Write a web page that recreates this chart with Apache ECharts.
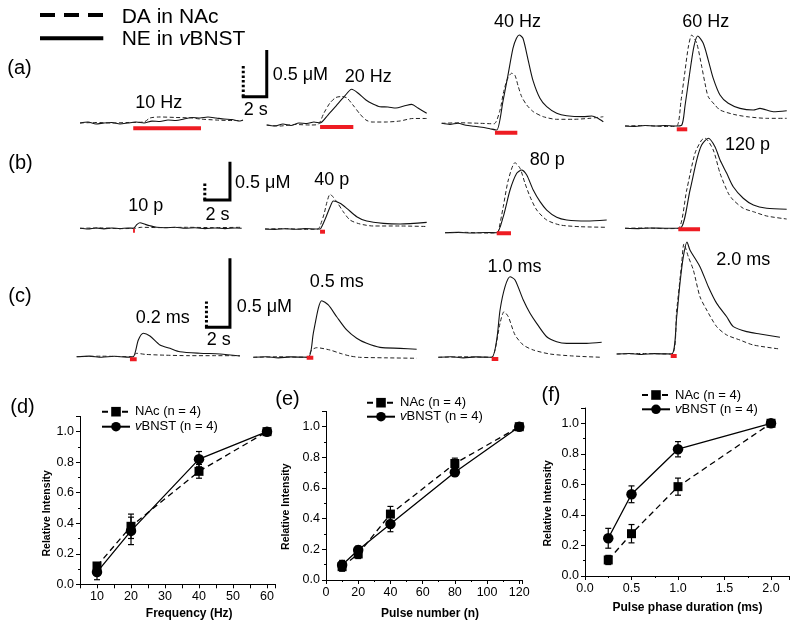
<!DOCTYPE html>
<html><head><meta charset="utf-8">
<script src="https://cdn.jsdelivr.net/npm/echarts@6/dist/echarts.min.js"></script>
<style>html,body{margin:0;padding:0;background:#fff}#c{width:800px;height:630px}</style>
</head><body><div id="c"></div>
<script>
// ---------- trace data: [time (s), concentration (uM)] ----------
const neA1 = [[0,0],[0.64,0.01],[1.28,-0.01],[1.92,0],[2.56,0.005],[3.2,-0.01],[3.84,0],[4.48,0.01],[5.12,0],[5.76,0.02],[6.4,0.016],[7.04,0.032],[7.68,0.027],[8.32,0.043],[8.96,0.059],[9.6,0.054],[10.24,0.064],[10.88,0.054],[11.52,0.043],[12.16,0.037],[12.8,0.021],[13.04,0.032]];
const daA1 = [[0,0],[1.28,0.008],[2.56,0],[3.84,0.008],[5.12,0.016],[5.6,0.079],[6.4,0.095],[7.68,0.087],[8.96,0.079],[9.6,0.063],[10.88,0.047],[12.16,0.039],[13.04,0.039]];
const neA2 = [[0,0],[0.66,-0.011],[1.3,0.011],[1.94,-0.005],[2.58,0.021],[3.22,0.016],[3.78,0.032],[4.26,0.021],[4.9,0.107],[5.54,0.203],[6.18,0.3],[6.8,0.382],[7.3,0.342],[7.94,0.268],[8.5,0.225],[9.06,0.196],[9.7,0.193],[10.34,0.182],[10.98,0.203],[11.6,0.221],[12.1,0.182],[12.8,0.125]];
const daA2 = [[0,0],[1.06,-0.016],[2.26,0.008],[3.46,0],[4.1,0.008],[4.58,0.189],[5.06,0.347],[5.54,0.434],[6.02,0.449],[6.42,0.426],[6.9,0.315],[7.46,0.173],[7.94,0.079],[8.42,0.047],[9.46,0.047],[10.66,0.063],[11.7,0.103],[12.8,0.103]];
const neA3 = [[0,0],[0.66,-0.011],[1.3,0],[1.94,-0.021],[2.58,-0.032],[3.22,-0.043],[3.86,-0.059],[4.4,-0.072],[4.9,0.235],[5.3,0.514],[5.7,0.803],[5.98,0.91],[6.2,0.945],[6.5,0.91],[6.92,0.674],[7.3,0.46],[7.86,0.268],[8.4,0.178],[9.2,0.107],[10.0,0.08],[11.33,0.071],[12.0,0.078],[12.42,0.06],[12.93,0.017]];
const daA3 = [[0,0],[1.46,0.008],[3.06,0],[4.18,-0.008],[4.66,0.205],[4.93,0.473],[5.22,0.68],[5.6,0.789],[5.86,0.757],[6.13,0.577],[6.4,0.419],[6.8,0.289],[7.33,0.183],[8.13,0.104],[9.2,0.063],[10.53,0.063],[11.86,0.079],[12.93,0.104]];
const neA4 = [[0,0],[0.8,-0.005],[1.6,0.005],[2.4,0],[3.2,0.005],[4.0,0],[4.54,0.01],[4.8,0.214],[5.2,0.589],[5.52,0.856],[5.82,0.963],[6.26,0.885],[6.66,0.706],[7.06,0.51],[7.6,0.332],[8.26,0.243],[9.2,0.189],[10.26,0.171],[10.8,0.189],[11.86,0.153],[12.94,0.164]];
const daA4 = [[0,0],[1.6,0.008],[3.2,-0.008],[4.14,0],[4.48,0.394],[4.8,0.867],[5.08,1.262],[5.34,1.435],[5.74,1.304],[6.14,0.935],[6.4,0.673],[6.66,0.462],[7.2,0.331],[7.6,0.252],[8.66,0.185],[9.74,0.147],[11.34,0.121],[12.94,0.121]];

const neB1 = [[0,0],[0.6,-0.009],[1.2,0.004],[1.8,-0.007],[2.4,0.004],[3.0,-0.004],[3.6,0.004],[4.0,0],[4.28,0.052],[4.5,0.073],[4.88,0.052],[5.25,0.033],[5.75,0.013],[6.38,0.007],[7.13,0.013],[7.88,0],[8.63,0.007],[9.38,-0.004],[10.13,0.004],[10.88,-0.004],[11.63,0.004],[12.13,0]];
const daB1 = [[0,0],[1.5,0.01],[3.0,-0.01],[4.1,0],[4.6,0.03],[6.0,0.02],[8.0,0.03],[10.0,0.02],[12.13,0.03]];
const neB2 = [[0,0],[0.75,-0.005],[1.5,0.004],[2.25,-0.004],[3.0,0.005],[3.75,0],[4.13,0],[4.28,0.039],[4.58,0.157],[4.88,0.287],[5.13,0.365],[5.63,0.335],[6.13,0.27],[6.88,0.161],[7.63,0.104],[8.88,0.074],[10.13,0.065],[12.13,0.087]];
const daB2 = [[0,0],[1.5,0.01],[3.0,-0.01],[3.98,0],[4.13,0.09],[4.43,0.449],[4.65,0.808],[4.88,1.039],[5.38,0.817],[5.87,0.518],[6.38,0.269],[7.13,0.15],[8.12,0.09],[10.13,0.09],[12.13,0.075]];
const neB3 = [[0,0],[1,0.004],[2,-0.004],[3,0.003],[3.88,0],[4.37,0.209],[4.88,0.557],[5.38,0.775],[5.75,0.818],[6.13,0.753],[6.62,0.557],[7.13,0.405],[7.63,0.296],[8.38,0.201],[9.13,0.166],[10.63,0.153],[12.13,0.166]];
const daB3 = [[0,0],[1.5,0.01],[3.0,-0.01],[3.9,0],[4.0,0.03],[4.37,0.778],[4.75,1.578],[5.25,2.096],[5.63,1.928],[6.0,1.479],[6.38,1.078],[6.88,0.68],[7.63,0.38],[8.63,0.231],[10.13,0.18],[12.13,0.162]];
const neB4 = [[0,0],[1,-0.004],[2,0.004],[3,0],[4.13,0],[4.88,0.5],[5.38,0.891],[5.75,1.087],[6.25,1.175],[6.75,1.065],[7.13,0.891],[7.63,0.718],[8.12,0.543],[8.87,0.392],[9.63,0.304],[10.63,0.261],[12.13,0.248]];
const daB4 = [[0,0],[1.5,0.01],[3.0,-0.01],[4.0,0],[4.63,1.147],[5.25,2.246],[5.75,2.644],[6.0,2.695],[6.62,2.344],[7.13,1.647],[7.75,1.048],[8.12,0.847],[8.87,0.599],[9.63,0.497],[10.63,0.368],[12.13,0.278]];

const neC1 = [[0,0],[1,0.004],[2,-0.004],[3,0.003],[4,-0.003],[4.53,0],[4.93,0.121],[5.33,0.17],[5.86,0.15],[6.66,0.085],[7.46,0.061],[8.26,0.036],[9.86,0.025],[11.46,0.02],[13.06,0.005]];
const daC1 = [[0,0],[2,0.01],[4.4,0],[4.8,0.066],[5.5,0.045],[7,0.03],[9,0.02],[11,0.02],[13.06,0.02]];
const neC2 = [[0,0],[1,0.004],[2,-0.004],[3,0.003],[4.4,0],[4.8,0.174],[5.2,0.355],[5.47,0.41],[6.0,0.379],[6.67,0.294],[7.47,0.198],[8.27,0.138],[9.07,0.101],[10.14,0.072],[11.74,0.065],[13.07,0.058]];
const daC2 = [[0,0],[2,0.01],[4.3,0],[4.67,0.142],[5.07,0.187],[6.13,0.142],[6.94,0.078],[7.74,0.025],[8.5,0],[10.5,-0.01],[13.07,-0.019]];
const neC3 = [[0,0],[1,0.004],[2,-0.004],[3,0.003],[4.27,0],[4.67,0.125],[4.94,0.343],[5.34,0.512],[5.74,0.584],[6.14,0.56],[6.8,0.415],[7.34,0.319],[7.87,0.246],[8.67,0.149],[9.47,0.113],[10.27,0.101],[11.87,0.101],[13.07,0.109]];
const daC3 = [[0,0],[2,0.01],[4.27,0],[4.54,0.142],[4.94,0.662],[5.26,0.887],[5.6,0.79],[6.14,0.434],[6.8,0.239],[7.6,0.142],[8.94,0.064],[10.8,0.025],[13.07,0]];
const neC4 = [[0,0],[1,0.004],[2,-0.004],[3,0.003],[4.4,0],[4.8,0.27],[5.06,0.512],[5.33,0.705],[5.62,0.812],[5.86,0.754],[6.66,0.633],[7.33,0.488],[8.0,0.367],[8.8,0.27],[9.33,0.198],[10.4,0.162],[11.46,0.145],[13.06,0.121]];
const daC4 = [[0,0],[2,0.01],[4.4,0],[4.8,0.856],[5.2,1.765],[5.38,2.141],[5.73,1.893],[6.13,1.635],[6.66,1.115],[7.2,0.856],[8.0,0.531],[8.8,0.37],[9.86,0.272],[10.93,0.175],[13.06,0.097]];

// stimulation windows [start, end] (s)
const stimA = [[4.26,9.68],[4.27,6.93],[4.26,6.05],[4.14,4.98]];
const stimB = [[3.98,4.12],[4.13,4.5],[3.88,4.95],[4.0,5.63]];
const stimC = [[4.26,4.8],[4.27,4.8],[4.27,4.8],[4.32,4.8]];

const freqLabels  = ['10 Hz','20 Hz','40 Hz','60 Hz'];
const pulseLabels = ['10 p','40 p','80 p','120 p'];
const widthLabels = ['0.2 ms','0.5 ms','1.0 ms','2.0 ms'];
const rowLabels = ['(a)','(b)','(c)'];
const scaleTime = 2;    // s
const scaleConc = 0.5;  // uM
const traceNames = ['DA in NAc','NE in vBNST'];

// ---------- summary data ----------
const freqX = [10,20,40,60];
const nacFreq = [0.12,0.38,0.74,1.0];
const nacFreqErr = [0.02,0.08,0.045,0];
const bnstFreq = [0.08,0.35,0.82,1.0];
const bnstFreqErr = [0.05,0.09,0.05,0];

const pulseX = [10,20,40,80,120];
const nacPulse = [0.087,0.17,0.43,0.76,1.0];
const nacPulseErr = [0.03,0.03,0.05,0.035,0];
const bnstPulse = [0.098,0.196,0.365,0.703,1.0];
const bnstPulseErr = [0.03,0.025,0.05,0.025,0];

const durX = [0.25,0.5,1.0,2.0];
const nacDur = [0.105,0.277,0.585,1.0];
const nacDurErr = [0.03,0.06,0.056,0];
const bnstDur = [0.247,0.535,0.83,1.0];
const bnstDurErr = [0.065,0.055,0.05,0];
const sigDur = [0.5,1.0];

const seriesNames = ['NAc (n = 4)','vBNST (n = 4)'];
const xTitles = ['Frequency (Hz)','Pulse number (n)','Pulse phase duration (ms)'];
const yTitle = 'Relative Intensity';
const chartLabels = ['(d)','(e)','(f)'];

// ---------- layout ----------
const FONT = '"Liberation Sans", Arial, Helvetica, sans-serif';
const rows = {
  a:{pxs:12.5, ne:93.4, da:63.4},
  b:{pxs:13.33, ne:76.6, da:33.4},
  c:{pxs:12.5, ne:138, da:51.4}
};
const panels = [
  {row:'a', x0:80,    y0:123,   off:5.3, ne:neA1, da:daA1, stim:stimA[0], label:freqLabels[0], lx:158.7, ly:103.3},
  {row:'a', x0:266.7, y0:125,   off:2,   ne:neA2, da:daA2, stim:stimA[1], label:freqLabels[1], lx:368.3, ly:77.5},
  {row:'a', x0:441.7, y0:123.3, off:9.4, ne:neA3, da:daA3, stim:stimA[2], label:freqLabels[2], lx:517.5, ly:22.5},
  {row:'a', x0:625,   y0:126,   off:3.3, ne:neA4, da:daA4, stim:stimA[3], label:freqLabels[3], lx:705.8, ly:22.5},
  {row:'b', x0:80,    y0:228.3, off:2.4, ne:neB1, da:daB1, stim:stimB[0], label:pulseLabels[0], lx:145.8, ly:206.3},
  {row:'b', x0:265,   y0:229,   off:2.7, ne:neB2, da:daB2, stim:stimB[1], label:pulseLabels[1], lx:331.7, ly:180},
  {row:'b', x0:445,   y0:232.7, off:0.5, ne:neB3, da:daB3, stim:stimB[2], label:pulseLabels[2], lx:547.2, ly:159.7},
  {row:'b', x0:625,   y0:228.3, off:1,   ne:neB4, da:daB4, stim:stimB[3], label:pulseLabels[3], lx:747.5, ly:145},
  {row:'c', x0:76.7,  y0:356.7, off:2.6, ne:neC1, da:daC1, stim:stimC[0], label:widthLabels[0], lx:162.8, ly:318.3},
  {row:'c', x0:253.3, y0:357.3, off:0.5, ne:neC2, da:daC2, stim:stimC[1], label:widthLabels[1], lx:336.7, ly:281.7},
  {row:'c', x0:438.3, y0:357.3, off:1.7, ne:neC3, da:daC3, stim:stimC[2], label:widthLabels[2], lx:514.5, ly:267},
  {row:'c', x0:616.7, y0:354,   off:2,   ne:neC4, da:daC4, stim:stimC[3], label:widthLabels[3], lx:743.3, ly:260}
];
const scaleBars = [
  {panel:0, t0:12.94, h:26.3, cx:272.7, cy:75,    sx:255.7, sy:110},
  {panel:4, t0:9.25,  h:28.3, cx:235,   cy:183.3, sx:217.5, sy:215},
  {panel:8, t0:10.26, h:29.4, cx:236.7, cy:306.7, sx:218.8, sy:340}
];

const grid=[], xAxis=[], yAxis=[], series=[], graphic=[];
function txt(text, x, y, size, o) {
  o = o || {};
  const st = {text:text, fontSize:size, fontFamily:FONT, fontWeight:o.bold?'bold':'normal', fill:'#000',
    align:o.align||'center', verticalAlign:'middle'};
  if (o.rich) st.rich = o.rich;
  return {type:'text', x:x, y:y, rotation:o.rot||0, silent:true, style:st};
}

const yIdxOf = [];
panels.forEach((p,i)=>{
  const r = rows[p.row];
  grid.push({left:p.x0, top:p.y0-130, width:200, height:160, outerBoundsMode:'none'});
  xAxis.push({type:'value', gridIndex:i, min:0, max:200/r.pxs, show:false});
  const yNE = yAxis.length;
  yIdxOf.push(yNE);
  yAxis.push({type:'value', gridIndex:i, min:-30/r.ne, max:130/r.ne, show:false});
  yAxis.push({type:'value', gridIndex:i, min:-30/r.da, max:130/r.da, show:false});
  series.push({type:'line', name:traceNames[1], xAxisIndex:i, yAxisIndex:yNE, data:p.ne, symbol:'none', smooth:0.25, clip:false,
    lineStyle:{color:'#111', width:1.1}, silent:true, z:3});
  series.push({type:'line', name:traceNames[0], xAxisIndex:i, yAxisIndex:yNE+1, data:p.da, symbol:'none', smooth:0.25, clip:false,
    lineStyle:{color:'#222', width:1, type:[4,2.5]}, silent:true, z:3});
  const yb = -p.off/r.ne;
  series.push({type:'line', xAxisIndex:i, yAxisIndex:yNE, data:[[p.stim[0],yb],[p.stim[1],yb]], symbol:'none', clip:false,
    lineStyle:{color:'#ee1c23', width:4, cap:'butt'}, silent:true, z:4});
  graphic.push(txt(p.label, p.lx, p.ly, 18));
});

scaleBars.forEach(sb=>{
  const p = panels[sb.panel], r = rows[p.row], yi = yIdxOf[sb.panel];
  const v0 = sb.h / r.ne, vd = sb.h / r.da, td = sb.t0 + 1.5 / r.pxs;
  series.push({type:'line', xAxisIndex:sb.panel, yAxisIndex:yi,
    data:[[sb.t0, v0],[sb.t0+scaleTime, v0],[sb.t0+scaleTime, v0+scaleConc]],
    symbol:'none', clip:false, lineStyle:{color:'#000', width:3, join:'miter'}, silent:true});
  series.push({type:'line', xAxisIndex:sb.panel, yAxisIndex:yi+1,
    data:[[td, vd],[td, vd+scaleConc]],
    symbol:'none', clip:false, lineStyle:{color:'#000', width:3, type:[2.5,2.2]}, silent:true});
  graphic.push(txt(scaleConc + ' μM', sb.cx, sb.cy, 18, {align:'left'}));
  graphic.push(txt(scaleTime + ' s', sb.sx, sb.sy, 18));
});

// row labels
graphic.push(txt(rowLabels[0], 7.3, 68, 20, {align:'left'}));
graphic.push(txt(rowLabels[1], 8.3, 163, 20, {align:'left'}));
graphic.push(txt(rowLabels[2], 8.3, 296, 20, {align:'left'}));

// top legend
graphic.push({type:'line', silent:true, shape:{x1:40,y1:15,x2:103.3,y2:15}, style:{stroke:'#000', lineWidth:4, lineDash:[15,9]}});
graphic.push({type:'line', silent:true, shape:{x1:40,y1:38.3,x2:103.3,y2:38.3}, style:{stroke:'#000', lineWidth:4}});
graphic.push(txt(traceNames[0], 121.7, 17.5, 21, {align:'left'}));
graphic.push(txt('{n|NE in }{i|v}{n|BNST}', 121.7, 39, 21, {align:'left',
  rich:{n:{fontSize:21, fontFamily:FONT, fill:'#000'}, i:{fontSize:21, fontFamily:FONT, fontStyle:'italic', fill:'#000'}}}));

// ---------- bottom charts ----------
const bottom = [
  {left:80,  top:416.4, width:195.5, height:167.9, xmin:5, xmax:62.5, interval:5, minor:false,
   fmt:v=>Math.abs(v%10)<1e-9?String(v):'',
   x:freqX, nac:nacFreq, nacE:nacFreqErr, bn:bnstFreq, bnE:bnstFreqErr,
   leg:{left:101, top:404.7, itemGap:1},
   lab:[22.5,407], yt:[46.7,513.3], xt:[189.2,614]},
  {left:326, top:411.4, width:196.5, height:168.6, xmin:0, xmax:122, interval:20, minor:true,
   fmt:v=>(Math.abs(v%20)<1e-9?String(v):''),
   x:pulseX, nac:nacPulse, nacE:nacPulseErr, bn:bnstPulse, bnE:bnstPulseErr,
   leg:{left:366, top:395.7, itemGap:0},
   lab:[287.5,399], yt:[285.8,506.7], xt:[430,614]},
  {left:585, top:408, width:204.6, height:168, xmin:0, xmax:2.2, interval:0.5, minor:true,
   fmt:v=>(Math.abs(v*2-Math.round(v*2))<1e-9?v.toFixed(1):''),
   x:durX, nac:nacDur, nacE:nacDurErr, bn:bnstDur, bnE:bnstDurErr,
   leg:{left:641, top:388, itemGap:0.3},
   lab:[551,395], yt:[548,503.3], xt:[687.5,608]}
];

const legends = [];
const axisCommon = {
  axisLine:{onZero:false, lineStyle:{color:'#000', width:1}},
  axisTick:{show:true, length:4, inside:false, lineStyle:{color:'#000', width:1}},
  splitLine:{show:false}, minorSplitLine:{show:false}
};
function errSeries(gi, yi, xs, ys, es) {
  return {type:'custom', xAxisIndex:gi, yAxisIndex:yi, silent:true, z:2, clip:false,
    encode:{x:0, y:[1,2]},
    data: xs.map((x,k)=>[x, ys[k]-es[k], ys[k]+es[k]]),
    renderItem:(params, api)=>{
      const lo = api.coord([api.value(0), api.value(1)]);
      const hi = api.coord([api.value(0), api.value(2)]);
      const w = 3, st = {stroke:'#000', lineWidth:1.2};
      return {type:'group', children:[
        {type:'line', shape:{x1:lo[0],y1:lo[1],x2:hi[0],y2:hi[1]}, style:st},
        {type:'line', shape:{x1:lo[0]-w,y1:lo[1],x2:lo[0]+w,y2:lo[1]}, style:st},
        {type:'line', shape:{x1:hi[0]-w,y1:hi[1],x2:hi[0]+w,y2:hi[1]}, style:st}
      ]};
    }};
}

bottom.forEach((b,k)=>{
  const gi = grid.length;
  grid.push({left:b.left, top:b.top, width:b.width, height:b.height, outerBoundsMode:'none'});
  xAxis.push(Object.assign({type:'value', gridIndex:gi, min:b.xmin, max:b.xmax, interval:b.interval,
    axisLabel:{color:'#000', fontSize:12.5, fontFamily:FONT, margin:6, formatter:b.fmt, showMaxLabel:true},
    minorTick:{show:b.minor, splitNumber:2, length:2, lineStyle:{color:'#000'}}}, axisCommon));
  const yi = yAxis.length;
  yAxis.push(Object.assign({type:'value', gridIndex:gi, min:0, max:1.1, interval:0.2,
    axisLabel:{color:'#000', fontSize:12.5, fontFamily:FONT, margin:6,
      formatter:v=>(Math.abs(v*5-Math.round(v*5))<1e-9?v.toFixed(1):'')},
    minorTick:{show:true, splitNumber:2, length:2, lineStyle:{color:'#000'}}}, axisCommon));
  series.push(errSeries(gi, yi, b.x, b.nac, b.nacE));
  series.push(errSeries(gi, yi, b.x, b.bn, b.bnE));
  series.push({type:'line', name:seriesNames[0], xAxisIndex:gi, yAxisIndex:yi, z:3,
    data:b.x.map((x,j)=>[x,b.nac[j]]), symbol:'rect', symbolSize:9, showSymbol:true,
    lineStyle:{color:'#000', width:1.3, type:[6,4]}, itemStyle:{color:'#000'}});
  series.push({type:'line', name:seriesNames[1], xAxisIndex:gi, yAxisIndex:yi, z:3,
    data:b.x.map((x,j)=>[x,b.bn[j]]), symbol:'circle', symbolSize:10.5, showSymbol:true,
    lineStyle:{color:'#000', width:1.3}, itemStyle:{color:'#000'}});
  if (k===2) {
    series.push({type:'scatter', xAxisIndex:gi, yAxisIndex:yi, z:5, silent:true,
      data: sigDur.map(x=>{const j=b.x.indexOf(x); return [x, b.bn[j]+b.bnE[j]];}),
      symbolSize:1, itemStyle:{opacity:0},
      label:{show:true, position:'inside', formatter:'*', fontSize:24, fontFamily:FONT, color:'#000', offset:[0,-1.5]}});
  }
  legends.push({orient:'vertical', left:b.leg.left, top:b.leg.top, itemWidth:28, itemHeight:12, itemGap:b.leg.itemGap,
    selectedMode:false, data:seriesNames, padding:0,
    formatter:n=>n.charAt(0)==='v' ? '{i|v}'+n.slice(1) : n,
    textStyle:{color:'#000', fontSize:13, fontFamily:FONT, lineHeight:14,
      rich:{i:{fontStyle:'italic', fontSize:13, fontFamily:FONT, color:'#000', lineHeight:14}}}});
  graphic.push(txt(chartLabels[k], b.lab[0], b.lab[1], 20));
  graphic.push(txt(yTitle, b.yt[0], b.yt[1], 10.5, {bold:true, rot:Math.PI/2}));
  graphic.push(txt(xTitles[k], b.xt[0], b.xt[1], 12, {bold:true}));
});

const chart = echarts.init(document.getElementById('c'), null, {renderer:'canvas'});
chart.setOption({
  animation:false,
  backgroundColor:'#fff',
  grid, xAxis, yAxis, series, legend:legends, graphic
});
</script></body></html>
